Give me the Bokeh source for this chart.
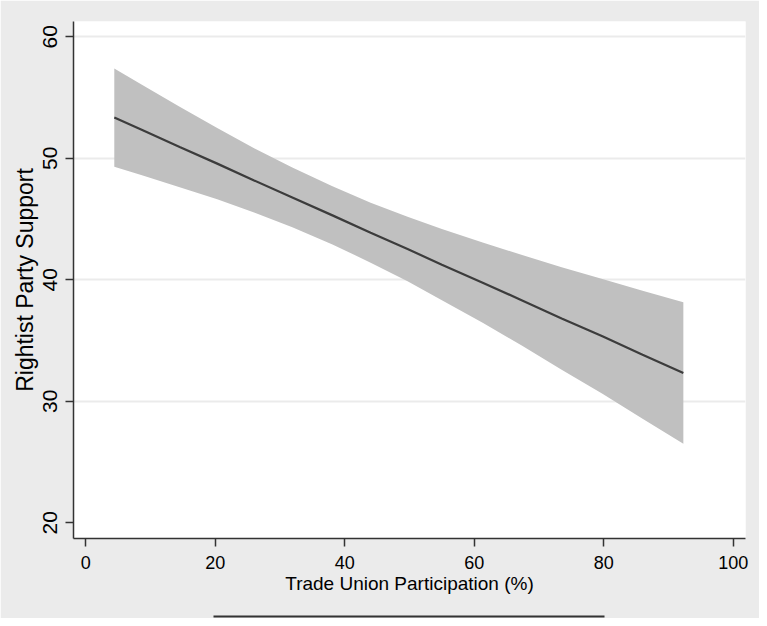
from bokeh.plotting import figure
from bokeh.models import Range1d, FixedTicker, LinearAxis
from bokeh.embed import file_html
from bokeh.resources import INLINE

# Data
x_vals = [4.4, 8.8, 14.5, 20.3, 26.0, 31.9, 38.1, 44.0, 49.7, 55.0, 61.3, 67.4, 73.5, 79.8, 86.0, 92.3]
fit = [53.35, 52.30, 50.93, 49.56, 48.18, 46.78, 45.30, 43.87, 42.53, 41.24, 39.76, 38.30, 36.81, 35.34, 33.82, 32.32]
upper = [57.40, 56.02, 54.24, 52.50, 50.83, 49.24, 47.69, 46.33, 45.18, 44.17, 43.06, 42.04, 41.03, 40.07, 39.09, 38.15]
lower = [49.30, 48.58, 47.62, 46.62, 45.53, 44.32, 42.91, 41.41, 39.88, 38.31, 36.46, 34.56, 32.59, 30.61, 28.55, 26.49]
x_ticks = [0, 20, 40, 60, 80, 100]
y_ticks = [20, 30, 40, 50, 60]
grid_ticks = [30, 40, 50, 60]
rule_bounds = (19.7, 80.1)

FONT = "Liberation Sans"

p = figure(width=759, height=618, output_backend="svg", toolbar_location=None,
           x_range=Range1d(-1.9, 101.9), y_range=Range1d(18.7, 61.26),
           min_border_left=73, min_border_right=14, min_border_top=21,
           min_border_bottom=80)
p.border_fill_color = "#ebebeb"
p.background_fill_color = "white"
p.outline_line_color = None

p.varea(x=x_vals, y1=lower, y2=upper, fill_color="#c0c0c0", fill_alpha=1)
p.line(x_vals, fit, line_color="#3c3c3c", line_width=2.2)

p.xgrid.visible = False
p.ygrid.ticker = FixedTicker(ticks=grid_ticks)
p.ygrid.grid_line_color = "#ebebeb"
p.ygrid.grid_line_width = 2

for ax in (p.xaxis[0], p.yaxis[0]):
    ax.axis_line_color = "#333333"
    ax.axis_line_width = 1.5
    ax.major_tick_line_color = "#333333"
    ax.major_tick_line_width = 1.5
    ax.major_tick_out = 8
    ax.major_tick_in = 0
    ax.minor_tick_line_color = None
    ax.major_label_text_font = FONT
    ax.major_label_text_color = "black"
    ax.axis_label_text_font = FONT
    ax.axis_label_text_font_style = "normal"
    ax.axis_label_text_color = "black"

p.xaxis.major_label_text_font_size = "18px"
p.xaxis.axis_label_text_font_size = "19px"
p.yaxis.major_label_text_font_size = "21px"
p.yaxis.axis_label_text_font_size = "23px"

p.xaxis.ticker = FixedTicker(ticks=x_ticks)
p.yaxis.ticker = FixedTicker(ticks=y_ticks)
p.yaxis.major_label_orientation = "vertical"
p.xaxis.axis_label = "Trade Union Participation (%)"
p.yaxis.axis_label = "Rightist Party Support"
p.xaxis.major_label_standoff = 9
p.xaxis.axis_label_standoff = 1
p.yaxis.major_label_standoff = 8
p.yaxis.axis_label_standoff = 3

# invisible spacer axis, then the short dark rule under the x-axis title
spacer = LinearAxis(ticker=FixedTicker(ticks=[]), axis_line_color=None,
                    major_tick_line_color=None, minor_tick_line_color=None,
                    major_tick_out=0, major_tick_in=0,
                    major_label_text_font_size="0px",
                    axis_label="x", axis_label_text_alpha=0,
                    axis_label_text_font=FONT,
                    axis_label_text_font_size="15px", axis_label_standoff=0)
p.add_layout(spacer, "below")
rule = LinearAxis(ticker=FixedTicker(ticks=[]), bounds=rule_bounds,
                  axis_line_color="#333333", axis_line_width=2,
                  major_tick_line_color=None, minor_tick_line_color=None,
                  major_tick_out=0, major_tick_in=0,
                  major_label_text_font_size="0px")
p.add_layout(rule, "below")

open("out.html", "w").write(file_html(p, INLINE))
